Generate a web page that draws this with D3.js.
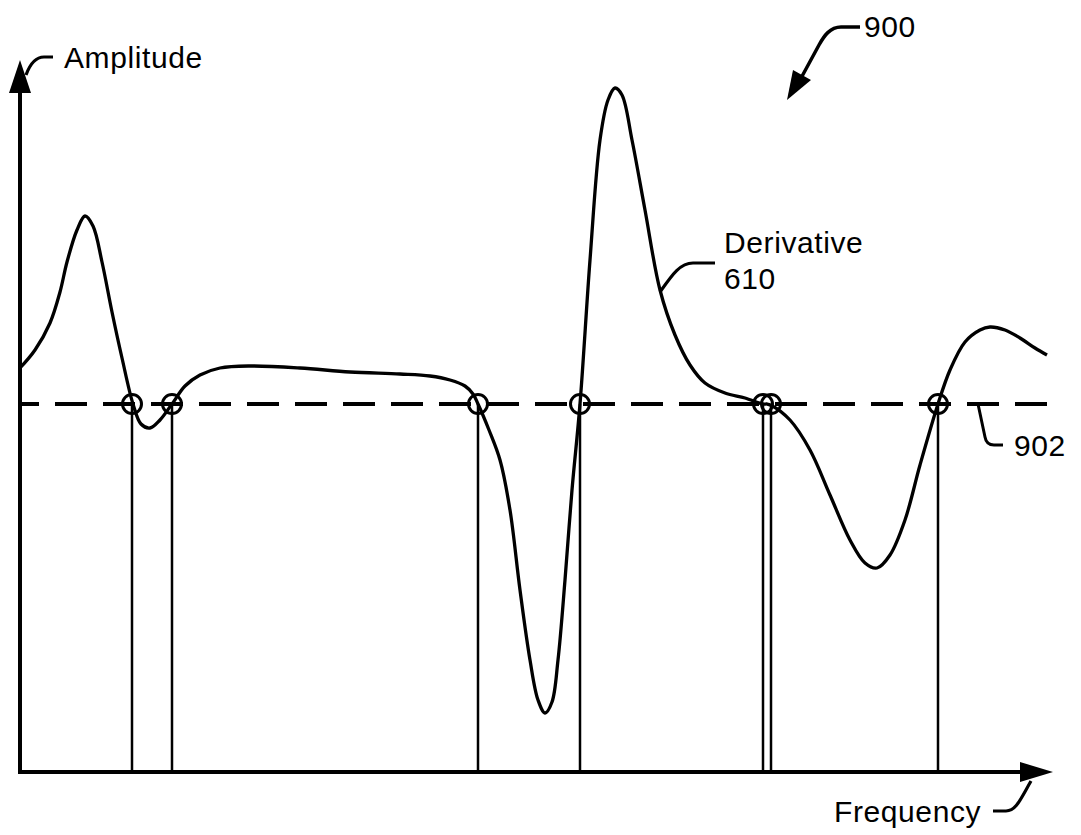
<!DOCTYPE html>
<html>
<head>
<meta charset="utf-8">
<script src="https://cdn.jsdelivr.net/npm/d3@7/dist/d3.min.js"></script>
<style>
  html, body { margin: 0; padding: 0; background: #fff; }
  svg { display: block; }
  text { font-family: "Liberation Sans", Arial, Helvetica, sans-serif; font-size: 30px; letter-spacing: 0.6px; fill: #000; }
</style>
</head>
<body>
<svg id="chart" width="1081" height="835"></svg>
<script>
// ---- data ----
const frequency = [0, 1.5, 3, 4, 4.7, 5.7, 6.5, 7.3, 8.2, 9.2, 10.2, 11.3, 12.1, 13, 14, 15.2, 16.5, 18, 20, 23, 28, 33, 38, 41, 43, 44.5, 45.3, 45.8,
  46.9, 48, 49, 50, 51, 51.8, 52.5, 53.2, 53.8, 54.5, 55.2, 56, 57, 58, 58.8, 59.5, 60.2, 61.2, 62.5, 64, 65.5, 67, 68.5, 70.5, 72.5,
  74.3, 74.7, 75.1, 77, 79, 81, 83, 84.5, 85.7, 87, 88.5, 90, 91.8, 93, 94.5, 96, 97, 98.5, 100, 101.5, 102.7];
const amplitude = [9, 13.5, 20.25, 28, 35.5, 43.5, 47, 44.5, 35.5, 23, 11.5, 0, -5, -6, -4, 0, 4.5, 7.25, 9, 9.5, 9, 8, 7.5, 7, 6, 4.5, 2.5, 0,
  -6.5, -14, -26.5, -46.5, -64, -74, -77.25, -74.5, -64, -44, -21.5, 0, 36, 66, 76, 79, 77.25, 66, 48.5, 28.5, 17.25, 9.75, 5.25, 2.75, 1.5,
  0, 0, -0.3, -4, -11.5, -22.75, -34, -39.75, -41, -37.75, -29, -15.25, 0, 8.5, 15.5, 18.5, 19.25, 18.5, 16.5, 14, 12.25];
const crossings = [11.2, 15.2, 45.8, 56, 74.3, 75.1, 91.8];
const threshold = 0;
const labels = { y: "Amplitude", x: "Frequency", curve: ["Derivative", "610"], fig: "900", line: "902" };

// ---- scales ----
const svg = d3.select("#chart");
const x = d3.scaleLinear().domain([0, 103]).range([20, 1050]);
const y = d3.scaleLinear().domain([-92, 92]).range([772, 36]);
const x0 = x(0), y0 = y(-92);

// axes
svg.append("line").attr("x1", x0).attr("y1", y0 + 2).attr("x2", x0).attr("y2", 85)
  .attr("stroke", "#000").attr("stroke-width", 4);
svg.append("line").attr("x1", x0 - 2).attr("y1", y0).attr("x2", 1025).attr("y2", y0)
  .attr("stroke", "#000").attr("stroke-width", 4);
// arrowheads
svg.append("path").attr("d", `M${x0},60 L${x0 + 11},93 L${x0 - 11},93 Z`).attr("fill", "#000");
svg.append("path").attr("d", `M1053,${y0} L1020,${y0 - 10} L1020,${y0 + 10} Z`).attr("fill", "#000");

// threshold dashed line 902
svg.append("line").attr("x1", x0).attr("x2", 1047).attr("y1", y(threshold)).attr("y2", y(threshold))
  .attr("stroke", "#000").attr("stroke-width", 4)
  .attr("stroke-dasharray", "32,16").attr("stroke-dashoffset", 13);

// vertical lines at crossings
svg.selectAll("line.vl").data(crossings).join("line").attr("class", "vl")
  .attr("x1", d => x(d)).attr("x2", d => x(d))
  .attr("y1", y(threshold)).attr("y2", y0)
  .attr("stroke", "#000").attr("stroke-width", 2.5);

// derivative curve
const pts = frequency.map((f, i) => [f, amplitude[i]]);
const line = d3.line().x(d => x(d[0])).y(d => y(d[1])).curve(d3.curveCatmullRom.alpha(0.5));
svg.append("path").datum(pts).attr("d", line)
  .attr("fill", "none").attr("stroke", "#000").attr("stroke-width", 3.3).attr("stroke-linejoin", "round");

// circles
svg.selectAll("circle.cr").data(crossings).join("circle").attr("class", "cr")
  .attr("cx", d => x(d)).attr("cy", y(threshold)).attr("r", 9.5)
  .attr("fill", "none").attr("stroke", "#000").attr("stroke-width", 3);

// labels
svg.append("text").attr("x", 64).attr("y", 68).text(labels.y);
svg.append("path").attr("d", "M53,57 L44,57 C36,57 30,64 26,75").attr("fill", "none").attr("stroke", "#000").attr("stroke-width", 3.2);

svg.append("text").attr("x", 834).attr("y", 822).text(labels.x);
svg.append("path").attr("d", "M993,811 L1006,811 C1016,811 1020,800 1031,781").attr("fill", "none").attr("stroke", "#000").attr("stroke-width", 3.2);

svg.append("text").attr("x", 724).attr("y", 253).text(labels.curve[0]);
svg.append("text").attr("x", 724).attr("y", 289).text(labels.curve[1]);
svg.append("path").attr("d", "M715,263 L693,263 C680,263 672,275 660,292").attr("fill", "none").attr("stroke", "#000").attr("stroke-width", 3.2);

svg.append("text").attr("x", 864).attr("y", 37).text(labels.fig);
svg.append("path").attr("d", "M860,27 L841,27 C830,27 824,36 819,45 L800,80").attr("fill", "none").attr("stroke", "#000").attr("stroke-width", 3.5);
svg.append("path").attr("d", "M787,100 L793,70 L811,80 Z").attr("fill", "#000");

svg.append("text").attr("x", 1014).attr("y", 456).text(labels.line);
svg.append("path").attr("d", "M978,404 L985,437 C986,443 989,445 994,445 L1003,445").attr("fill", "none").attr("stroke", "#000").attr("stroke-width", 3);
</script>
</body>
</html>
